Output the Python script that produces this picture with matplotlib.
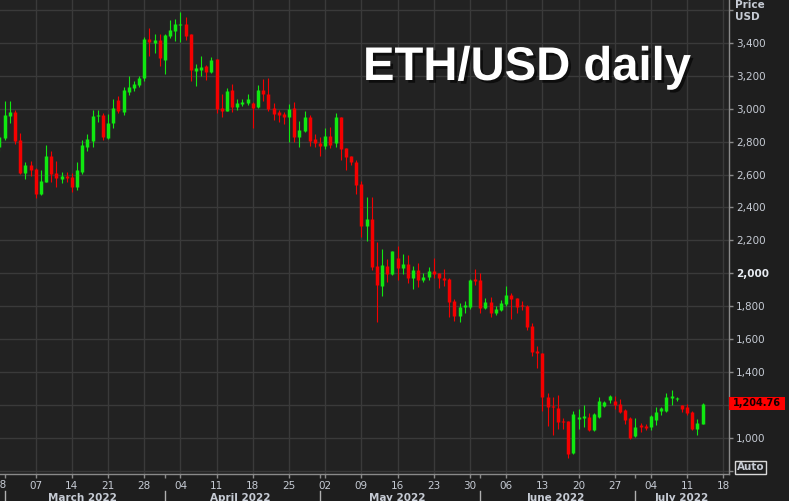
import matplotlib

matplotlib.use("Agg")
import matplotlib.dates as mdates
import matplotlib.patheffects as pe
import matplotlib.pyplot as plt
import pandas as pd
from matplotlib.patches import Rectangle
from matplotlib.transforms import blended_transform_factory

# daily ETH/USD candles, 28 Feb 2022 .. 14 Jul 2022
first_day = "2022-02-28"
last_day = "2022-07-14"

opens = [
    2766, 2820, 2958, 2982, 2810, 2607, 2658, 2634, 2482, 2556, 2713, 2607, 2573, 2593, 2587, 2526,
    2614, 2769, 2806, 2956, 2962, 2824, 2911, 3050, 2978, 3104, 3124, 3144, 3185, 3424, 3398, 3418,
    3296, 3442, 3473, 3509, 3515, 3453, 3232, 3236, 3260, 3225, 3301, 3004, 2988, 3114, 3009, 3027,
    3037, 3037, 3009, 3111, 3090, 3007, 2979, 2968, 2952, 3007, 2830, 2867, 2952, 2814,
    2794, 2774, 2834, 2790, 2951, 2764, 2713, 2679, 2545, 2289, 2330, 2044, 1924, 2044, 1995, 2095,
    2034, 2056, 1969, 2020, 1958, 1975, 2014, 2003, 1973, 1962, 1831, 1742, 1793, 1797, 1965,
    1959, 1786, 1827, 1756, 1778, 1811, 1868, 1847, 1807, 1801, 1679, 1529, 1517, 1249, 1192, 1178,
    1103, 1101, 904, 1111, 1121, 1127, 1047, 1124, 1195, 1227, 1225, 1207, 1170, 1119,
    1008, 1074, 1068, 1062, 1109, 1160, 1164, 1243, 1233, 1196, 1186, 1154, 1055, 1083,
]
highs = [
    2850, 3047, 3047, 2992, 2855, 2678, 2684, 2640, 2628, 2780, 2741, 2682, 2617, 2617, 2607, 2678,
    2810, 2845, 2993, 2993, 2974, 2970, 3058, 3080, 3130, 3199, 3170, 3200, 3436, 3493, 3453, 3453,
    3453, 3539, 3545, 3590, 3556, 3453, 3270, 3321, 3266, 3317, 3301, 3088, 3124, 3150, 3059, 3059,
    3090, 3040, 3144, 3179, 3189, 3033, 2992, 2979, 3027, 3043, 2925, 2987, 2962, 2847,
    2830, 2880, 2891, 2971, 2951, 2764, 2713, 2690, 2560, 2462, 2462, 2192, 2147, 2087, 2135, 2165,
    2119, 2109, 2044, 2064, 1999, 2036, 2095, 2003, 2024, 1973, 1841, 1817, 1831, 1965, 2024,
    1999, 1847, 1853, 1801, 1837, 1922, 1882, 1847, 1833, 1807, 1695, 1558, 1517, 1269, 1250, 1262,
    1117, 1101, 1164, 1174, 1198, 1147, 1150, 1249, 1223, 1259, 1253, 1237, 1176, 1123,
    1119, 1088, 1082, 1139, 1186, 1186, 1270, 1287, 1247, 1196, 1204, 1160, 1115, 1211,
]
lows = [
    2740, 2810, 2911, 2786, 2601, 2572, 2591, 2455, 2475, 2553, 2553, 2526, 2547, 2553, 2496, 2506,
    2601, 2745, 2766, 2918, 2808, 2815, 2881, 2975, 2960, 3084, 3110, 3130, 3171, 3319, 3336, 3260,
    3214, 3428, 3414, 3408, 3418, 3169, 3140, 3201, 3175, 3220, 2972, 2951, 2985, 2978, 2992, 3015,
    3021, 2881, 3003, 3045, 2989, 2932, 2918, 2906, 2800, 2800, 2769, 2857, 2773, 2769,
    2715, 2757, 2760, 2770, 2688, 2628, 2655, 2482, 2222, 2198, 2020, 1705, 1863, 1949, 1989, 1958,
    1995, 1938, 1902, 1918, 1944, 1958, 1969, 1912, 1924, 1736, 1710, 1705, 1760, 1781, 1928,
    1756, 1780, 1736, 1746, 1770, 1801, 1722, 1756, 1776, 1655, 1497, 1421, 1162, 1071, 1017, 1050,
    1053, 874, 900, 1053, 1067, 1040, 1043, 1120, 1186, 1213, 1176, 1150, 1085, 994,
    1002, 1033, 1045, 1045, 1078, 1139, 1154, 1196, 1223, 1159, 1140, 1045, 1015, 1080,
]
closes = [
    2826, 2962, 2982, 2806, 2607, 2658, 2628, 2482, 2561, 2713, 2603, 2577, 2593, 2581, 2522, 2627,
    2780, 2816, 2956, 2962, 2826, 2911, 3003, 2985, 3113, 3134, 3150, 3189, 3424, 3404, 3418, 3307,
    3448, 3479, 3515, 3515, 3442, 3236, 3250, 3256, 3225, 3296, 2998, 2988, 3108, 3008, 3037, 3043,
    3057, 3003, 3111, 3091, 2997, 2966, 2963, 2952, 2999, 2830, 2871, 2952, 2806, 2790,
    2774, 2834, 2780, 2947, 2758, 2709, 2673, 2537, 2289, 2330, 2036, 1928, 2050, 1995, 2135, 2034,
    2056, 1969, 2020, 1958, 1979, 2014, 1995, 1969, 1958, 1827, 1742, 1793, 1805, 1959, 1952,
    1790, 1827, 1756, 1782, 1821, 1868, 1843, 1797, 1801, 1675, 1523, 1513, 1245, 1188, 1184, 1098,
    1097, 900, 1143, 1127, 1131, 1046, 1144, 1223, 1215, 1253, 1200, 1156, 1109, 1000,
    1066, 1064, 1060, 1129, 1159, 1180, 1245, 1253, 1241, 1176, 1150, 1055, 1088, 1204.76,
]

y_ticks = [800, 1000, 1200, 1400, 1600, 1800, 2000, 2200, 2400, 2600, 2800, 3000, 3200, 3400, 3600]
months = ["March 2022", "April 2022", "May 2022", "June 2022", "July 2022"]
month_starts = ["2022-03-01", "2022-04-01", "2022-05-01", "2022-06-01", "2022-07-01"]
month_label_days = ["2022-03-16", "2022-04-15 12:00", "2022-05-16", "2022-06-15 12:00", "2022-07-10"]

BG = "#222222"
GRID = "#3a3a3a"
TXT = "#c6cbd4"
GREEN = "#10e810"
RED = "#f40000"

W, H = 789, 501
fig = plt.figure(figsize=(W / 100, H / 100), dpi=100)
fig.patch.set_facecolor("#1e1e1e")
ax = fig.add_axes([0, 1 - 474 / H, 729 / W, 474 / H])
ax.set_facecolor(BG)

dates = pd.date_range(first_day, last_day, freq="D")
x = mdates.date2num(dates)

# candles: 1 px wick + 3 px body, both drawn as vertical lines on the same x
for xi, o, h, l, c in zip(x, opens, highs, lows, closes):
    col = GREEN if c >= o else RED
    lo, hi = min(o, c), max(o, c)
    if hi - lo < 6:
        mid = (hi + lo) / 2
        lo, hi = mid - 3, mid + 3
    ax.vlines(xi, l, h, color=col, lw=0.8, zorder=3)
    ax.vlines(xi, lo, hi, color=col, lw=2.5, zorder=4, capstyle="butt")

x0 = mdates.date2num(pd.Timestamp("2022-02-28")) + 0.1
ax.set_xlim(x0, x0 + 141)
ax.set_ylim(779, 3661)

# axes / spines
for s in ["top", "left"]:
    ax.spines[s].set_visible(False)
for s in ["right", "bottom"]:
    ax.spines[s].set_color("#8a8a8a")
    ax.spines[s].set_linewidth(1)

ax.yaxis.tick_right()
ax.set_yticks(y_ticks)
# 800 sits under the Auto box, 1,200 under the last-price tag, 3,600 under the header
ax.set_yticklabels(
    ["" if v in (800, 1200, 3600) else f"{v:,}" for v in y_ticks],
    fontsize=7.5,
    color=TXT,
)
for lab in ax.get_yticklabels():
    if lab.get_text() == "2,000":
        lab.set_fontweight("bold")
        lab.set_color("#e8ecf2")
ax.tick_params(axis="y", length=3, width=1, color="#8a8a8a", pad=2)

mondays = pd.date_range("2022-03-07", "2022-07-18", freq="7D")
ax.set_xticks(mdates.date2num(mondays))
ax.set_xticklabels([d.strftime("%d") for d in mondays], fontsize=7.5, color=TXT)
ax.set_xticks(mdates.date2num(pd.to_datetime(month_starts)), minor=True)
ax.tick_params(axis="x", which="both", length=3, width=1, color="#8a8a8a", pad=2)

ax.grid(True, which="major", color=GRID, lw=1)
ax.set_axisbelow(True)

# partially visible "28" at left edge
ax.text(
    mdates.date2num(pd.Timestamp("2022-02-28")), -0.0125, "28",
    transform=blended_transform_factory(ax.transData, ax.transAxes),
    ha="center", va="top", fontsize=7.5, color=TXT, clip_on=False,
)

# month labels and separators
trans = blended_transform_factory(ax.transData, fig.transFigure)
for m, d in zip(months, month_label_days):
    ax.text(
        mdates.date2num(pd.Timestamp(d)), 1 - 493 / H, m,
        transform=trans, ha="center", va="top", fontsize=7.5,
        fontweight="bold", color=TXT, clip_on=False,
    )
for d in month_starts:
    xm = mdates.date2num(pd.Timestamp(d))
    ax.plot([xm, xm], [1 - 491 / H, 0], transform=trans, color="#b0b0b0", lw=1, clip_on=False)

# title
fig.text(
    363 / W, 1 - 80 / H, "ETH/USD daily",
    fontsize=34, fontweight="bold", color="white", family="Liberation Sans",
    va="baseline", ha="left",
    path_effects=[pe.withSimplePatchShadow(offset=(2, -2), shadow_rgbFace="black", alpha=0.6)],
)

# Price / USD header
fig.text(735 / W, 1 - 22 / H, "Price\nUSD", fontsize=7.5, fontweight="bold",
         color=TXT, va="bottom", ha="left", linespacing=1.3)

# last price tag
fig.patches.append(Rectangle((729 / W, 1 - 410 / H), 56 / W, 13.5 / H,
                             transform=fig.transFigure, facecolor="#ff0000", edgecolor="none"))
fig.text(757 / W, 1 - 403.5 / H, f"{closes[-1]:,.2f}", fontsize=7, fontweight="bold",
         color="#140000", ha="center", va="center")

# Auto box
fig.text(750.5 / W, 1 - 467.5 / H, "Auto", fontsize=7.5, fontweight="bold", color=TXT,
         ha="center", va="center",
         bbox=dict(boxstyle="square,pad=0.15", fc="none", ec="#d8d8d8", lw=1))

plt.savefig("out.png", dpi=100, facecolor=fig.get_facecolor())
